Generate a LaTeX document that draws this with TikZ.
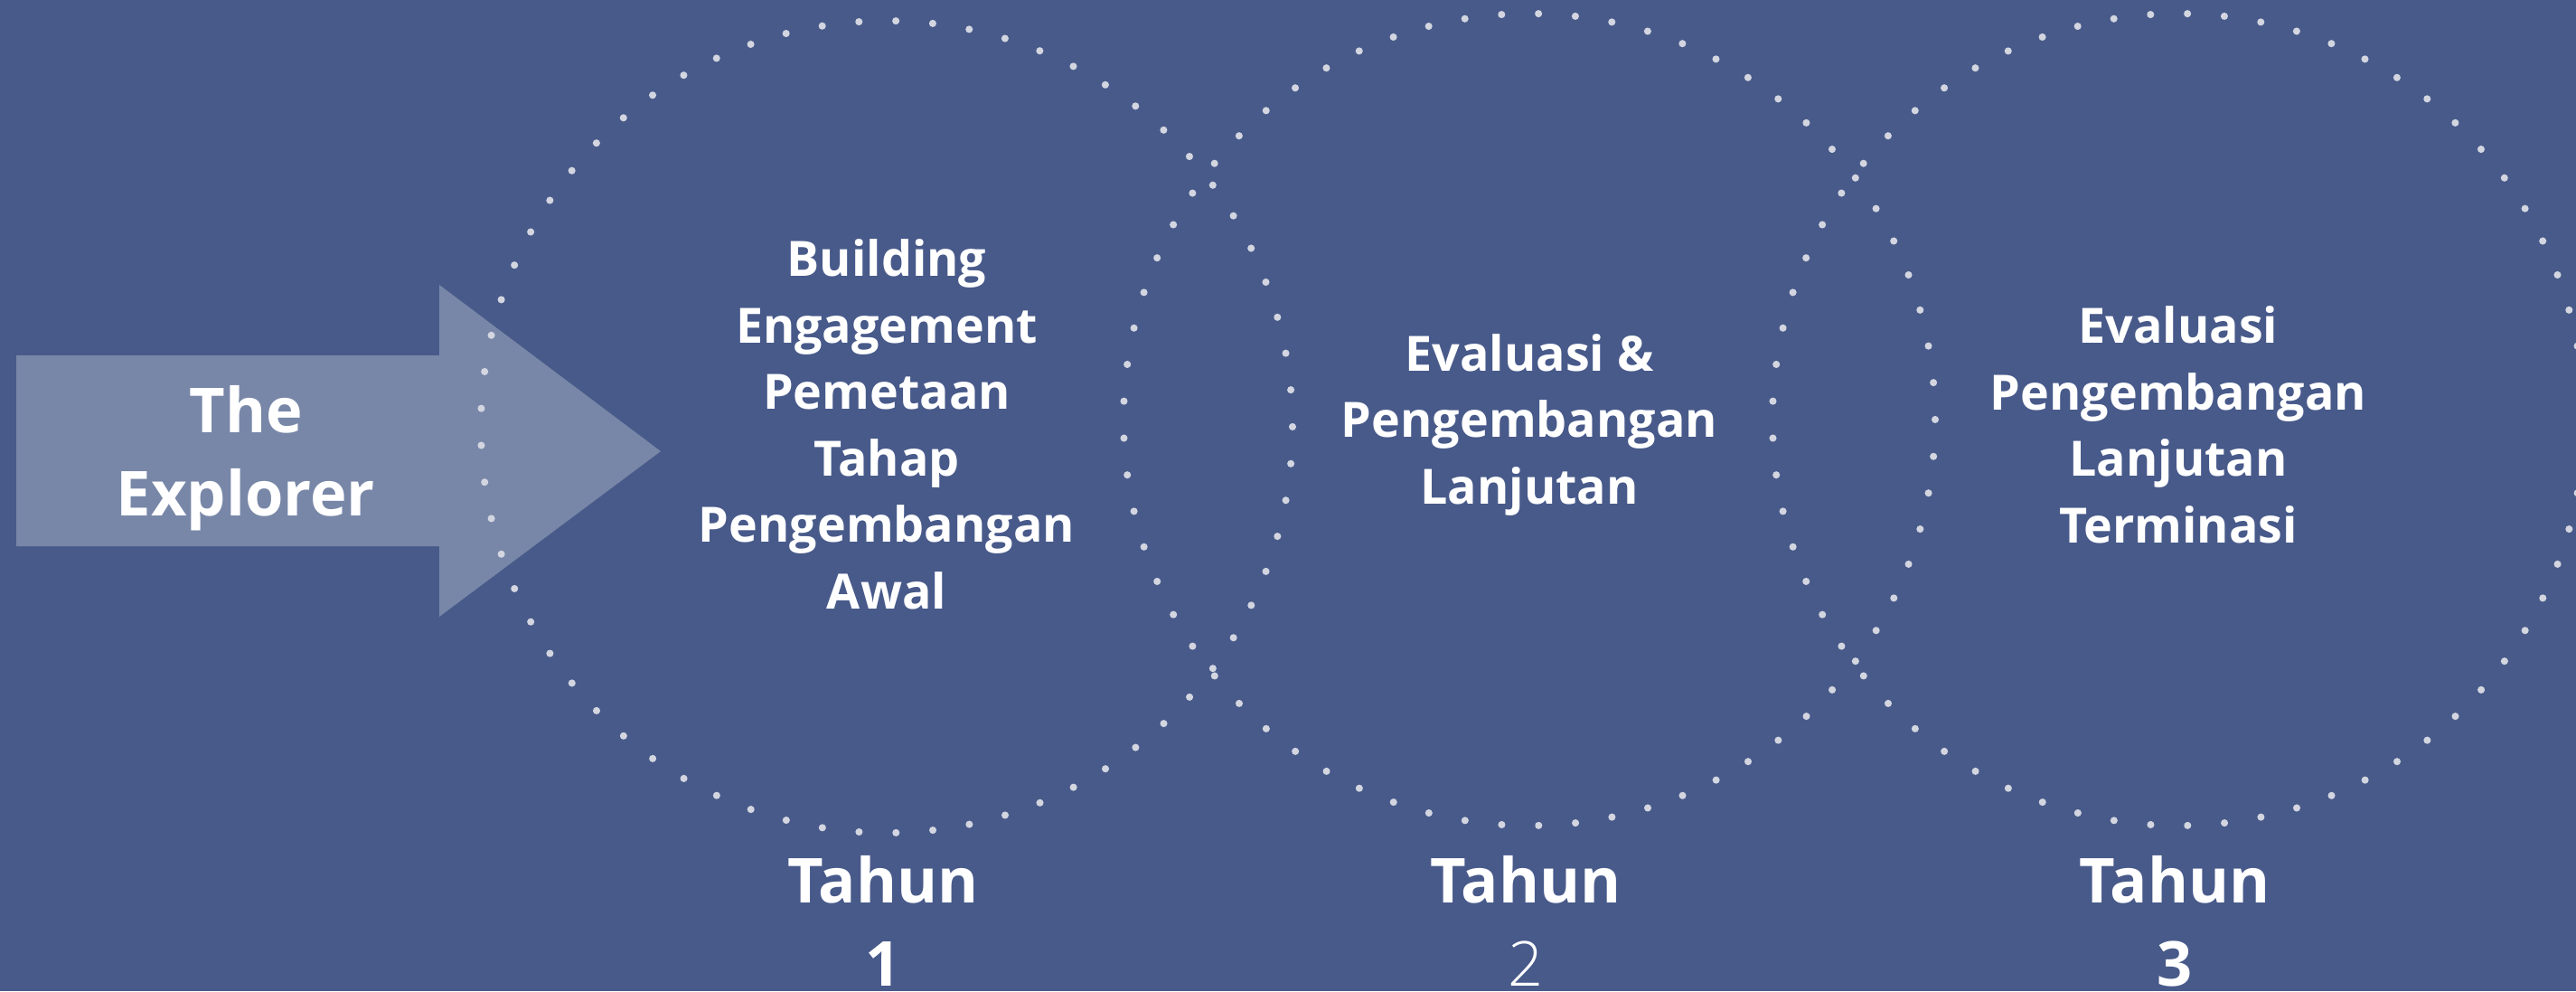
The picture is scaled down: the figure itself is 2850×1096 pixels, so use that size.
\documentclass[tikz,border=0pt]{standalone}
\usepackage{fontspec}
\setmainfont{Open Sans}
\newfontfamily\lightfont{Open Sans Light}
\definecolor{bgblue}{HTML}{485A8A}
\definecolor{arrowblue}{HTML}{7887A8}
\definecolor{dotgrey}{HTML}{D3D6E0}
\tikzset{
  stagetext/.style={text=white, align=center, inner sep=0pt, anchor=base,
    font=\bfseries\fontsize{15.3pt}{20.9pt}\selectfont},
  yeartext/.style={text=white, align=center, inner sep=0pt, anchor=base,
    font=\bfseries\fontsize{19.5pt}{25.9pt}\selectfont},
  ringdot/.style={fill=dotgrey},
}
% #4 is the baseline of the last text line
\newcommand{\yearring}[6]{%
  \begin{scope}[shift={(#1,#2)}]
    % Dotted ring
    \foreach \n in {0,...,68} {
      \fill[ringdot] ({182.6+\n*(360/69)}:449) circle (1.15pt);
    }
    % Stage text and year label
    \node[stagetext] (stage#3) at (0,{#4-#2}) {#5};
    \node[yeartext] (year#3) at (-4,{1090-#2}) {Tahun\\#6};
  \end{scope}
}

\begin{document}
\begin{tikzpicture}[x=0.01cm, y=-0.01cm]

% Background
\fill[bgblue] (0,0) rectangle (2850,1096);
\useasboundingbox (0,0) rectangle (2850,1096);

% Entry arrow
\fill[arrowblue] (18,393) -- (486,393) -- (486,315) -- (731,499)
  -- (486,682) -- (486,604) -- (18,604) -- cycle;
\node[yeartext] (explorer) at (272,570) {The\\Explorer};

\yearring{981}{472}{1}{673}
  {Building\\Engagement\\Pemetaan\\Tahap\\Pengembangan\\Awal}
  {1}

\yearring{1692}{464}{2}{557}
  {Evaluasi \&\\Pengembangan\\Lanjutan}
  {{\lightfont\mdseries 2}}

\yearring{2410}{464}{3}{600}
  {Evaluasi\\Pengembangan\\Lanjutan\\Terminasi}
  {3}

\end{tikzpicture}
\end{document}
